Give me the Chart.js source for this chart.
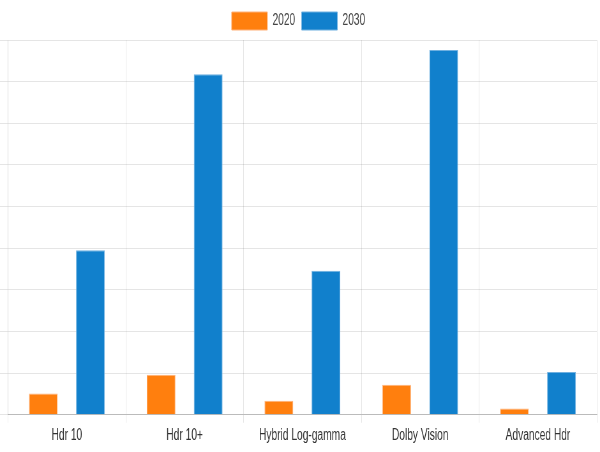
<!DOCTYPE html>
<html>
<head>
<meta charset="utf-8">
<script src="https://cdn.jsdelivr.net/npm/chart.js@4"></script>
<style>
  html, body { margin: 0; padding: 0; background: #fff; overflow: hidden; }
  /* the reference is horizontally squeezed: draw wide, then scale down to 600px */
  #wrap { width: 940px; height: 452px; transform: scaleX(0.6383); transform-origin: 0 0; }
</style>
</head>
<body>
<div id="wrap"><canvas id="chart"></canvas></div>
<script>
const CATEGORIES = ["Hdr 10", "Hdr 10+", "Hybrid Log-gamma", "Dolby Vision", "Advanced Hdr"]
const SERIES_2020 = [5.1, 9.6, 3.4, 7.2, 1.5]
const SERIES_2030 = [39.5, 81.8, 34.6, 87.6, 10.3]
const Y_MAX = 90
const Y_STEP = 10

const FONT = "'Liberation Sans', Arial, sans-serif"

new Chart(document.getElementById("chart"), {
  type: "bar",
  data: {
    labels: CATEGORIES,
    datasets: [
      {
        label: "2020",
        data: SERIES_2020,
        backgroundColor: "#ff7f0e",
        borderColor:     "#ffb27a",
        borderWidth:     1,
        categoryPercentage: 0.8,
        barPercentage:   0.61,
      },
      {
        label: "2030",
        data: SERIES_2030,
        backgroundColor: "#1180cc",
        borderColor:     "#6fb0e0",
        borderWidth:     1,
        categoryPercentage: 0.8,
        barPercentage:   0.61,
      }
    ]
  },
  options: {
    responsive:          true,
    maintainAspectRatio: false,
    animation:           false,
    layout: { padding: { top: 2, right: 5, bottom: 4, left: 0 } },
    plugins: {
      legend: {
        position: "top",
        labels: {
          boxWidth:  56,
          boxHeight: 18,
          padding:   10,
          color:     "#444",
          font:      { family: FONT, size: 16 }
        }
      },
      tooltip: { enabled: false }
    },
    scales: {
      x: {
        grid:   { color: "rgba(0,0,0,0.1)", tickLength: 8 },
        border: { color: "#bbb" },
        ticks:  { color: "#333", font: { family: FONT, size: 16 }, maxRotation: 0, autoSkip: false }
      },
      y: {
        min: 0,
        max: Y_MAX,
        grid:   { color: "rgba(0,0,0,0.1)", tickLength: 12.5 },
        border: { color: "rgba(0,0,0,0.1)" },
        ticks:  { display: false, stepSize: Y_STEP }
      }
    }
  }
})
</script>
</body>
</html>
